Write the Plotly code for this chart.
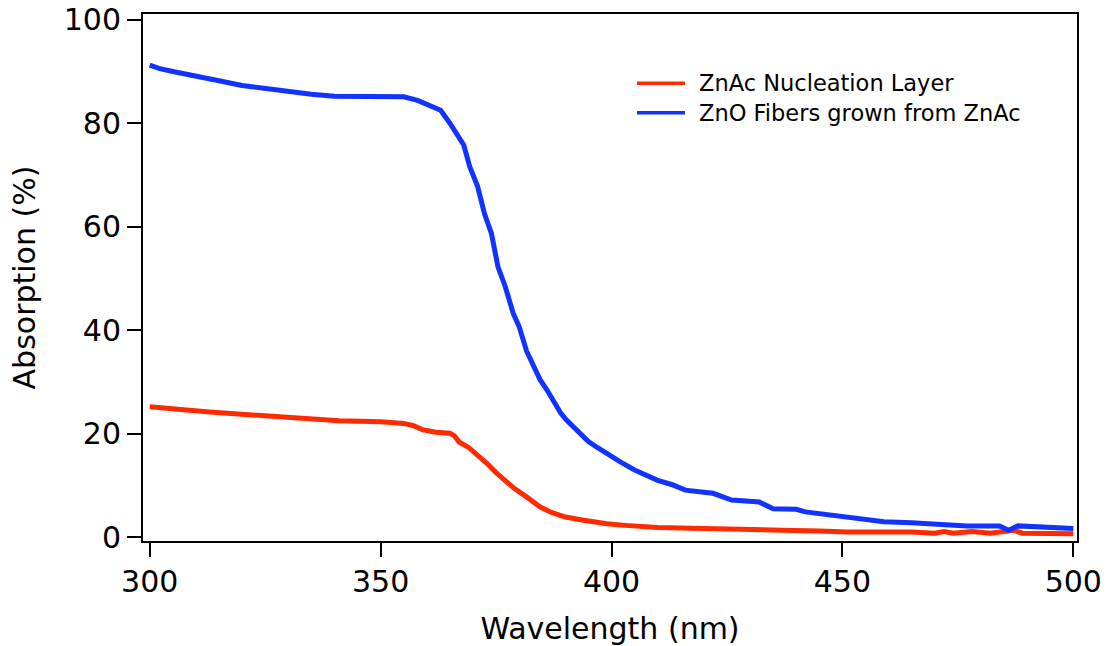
import plotly.graph_objects as go

# Data
wl_zno = [300, 302, 305, 310, 315, 320, 325, 330, 335, 340, 345, 350, 355, 358, 361, 363,
          365, 367, 368, 369.3, 371, 372.5, 374, 375.4, 377, 378.7, 380, 381.6, 383, 384.5,
          386, 387.4, 389, 390.3, 393, 395, 397, 400, 402, 405, 407, 410, 413, 416, 420, 422,
          426, 432, 435, 440, 442, 445, 451, 455, 459, 465, 470, 477, 484, 486, 488, 495, 500]
abs_zno = [91.2, 90.6, 90.0, 89.0, 88.2, 87.3, 86.7, 86.0, 85.6, 85.2, 85.2, 85.2, 85.1, 84.4,
           83.3, 82.5, 80.0, 77.0, 75.8, 71.6, 67.8, 62.5, 58.7, 52.3, 48.4, 43.3, 40.7, 36.0,
           33.5, 30.5, 28.5, 26.5, 24.0, 22.6, 20.1, 18.5, 17.3, 15.5, 14.5, 13.0, 12.2, 11.0,
           10.2, 9.1, 8.7, 8.5, 7.2, 6.8, 5.5, 5.4, 4.9, 4.6, 3.9, 3.4, 3.0, 2.8, 2.6, 2.2, 2.2,
           1.35, 2.2, 2.0, 1.7]

wl_znac = [300, 303, 308, 313, 319, 326, 333, 341, 350, 355, 357, 359, 362, 365, 366, 367,
           369, 371, 373, 375, 377, 379, 381.6, 383, 384.5, 387, 390, 394, 399, 403, 407, 410,
           420, 426, 437, 445, 451, 465, 470, 472, 474, 478, 482, 485, 487, 489, 500]
abs_znac = [25.2, 24.9, 24.6, 24.2, 23.8, 23.5, 23.0, 22.5, 22.3, 22.0, 21.6, 20.8, 20.3, 20.1,
            19.6, 18.4, 17.4, 16.0, 14.3, 12.5, 11.0, 9.4, 7.8, 6.8, 5.9, 4.8, 3.9, 3.3, 2.6,
            2.3, 2.1, 1.9, 1.7, 1.5, 1.35, 1.2, 1.0, 1.0, 0.8, 1.1, 0.8, 1.1, 0.8, 1.1, 1.35,
            0.8, 0.7]

x_ticks = [300, 350, 400, 450, 500]
y_ticks = [0, 20, 40, 60, 80, 100]
series_names = ["ZnAc Nucleation Layer", "ZnO Fibers grown from ZnAc"]

RED = "#FF2A00"
BLUE = "#1232FF"
colors = [RED, BLUE]
FONT = "Lucida Grande, DejaVu Sans, sans-serif"

fig = go.Figure()
fig.add_trace(go.Scatter(x=wl_znac, y=abs_znac, mode="lines", name=series_names[0],
                         line=dict(color=RED, width=5), showlegend=False))
fig.add_trace(go.Scatter(x=wl_zno, y=abs_zno, mode="lines", name=series_names[1],
                         line=dict(color=BLUE, width=5), showlegend=False))

axis_common = dict(showgrid=False, zeroline=False, showline=True, linecolor="black",
                   linewidth=2, mirror=True, ticks="outside", ticklen=14, tickwidth=2,
                   tickcolor="black", automargin=False, ticklabeloverflow="allow",
                   tickfont=dict(family=FONT, size=30, color="black"))

# Legend drawn in paper coordinates (long sample lines like the reference)
legend_rows_y = [0.8685, 0.8127]
for name, col, yy in zip(series_names, colors, legend_rows_y):
    fig.add_shape(type="line", xref="paper", yref="paper", x0=0.5289, x1=0.5803,
                  y0=yy, y1=yy, line=dict(color=col, width=3.5))
    fig.add_annotation(xref="paper", yref="paper", x=0.5931, y=yy, text=name,
                       showarrow=False, xanchor="left", yanchor="middle",
                       font=dict(family=FONT, size=22.5, color="black"))

fig.update_layout(
    width=1110, height=646,
    margin=dict(l=143, r=33, t=14, b=105),
    paper_bgcolor="white", plot_bgcolor="white",
    font=dict(family=FONT, color="black"),
    xaxis=dict(range=[298.55, 500.8], tickvals=x_ticks, ticklabelstandoff=-1,
               title=dict(text="Wavelength (nm)", font=dict(family=FONT, size=30), standoff=25),
               **axis_common),
    yaxis=dict(range=[-0.72, 101.1], tickvals=y_ticks, ticklabelstandoff=0,
               title=dict(text="Absorption (%)", font=dict(family=FONT, size=30), standoff=19),
               **axis_common),
    showlegend=False,
)

fig.write_html("out.html", config={"displayModeBar": False},
               post_script="document.body.style.margin='0';")
